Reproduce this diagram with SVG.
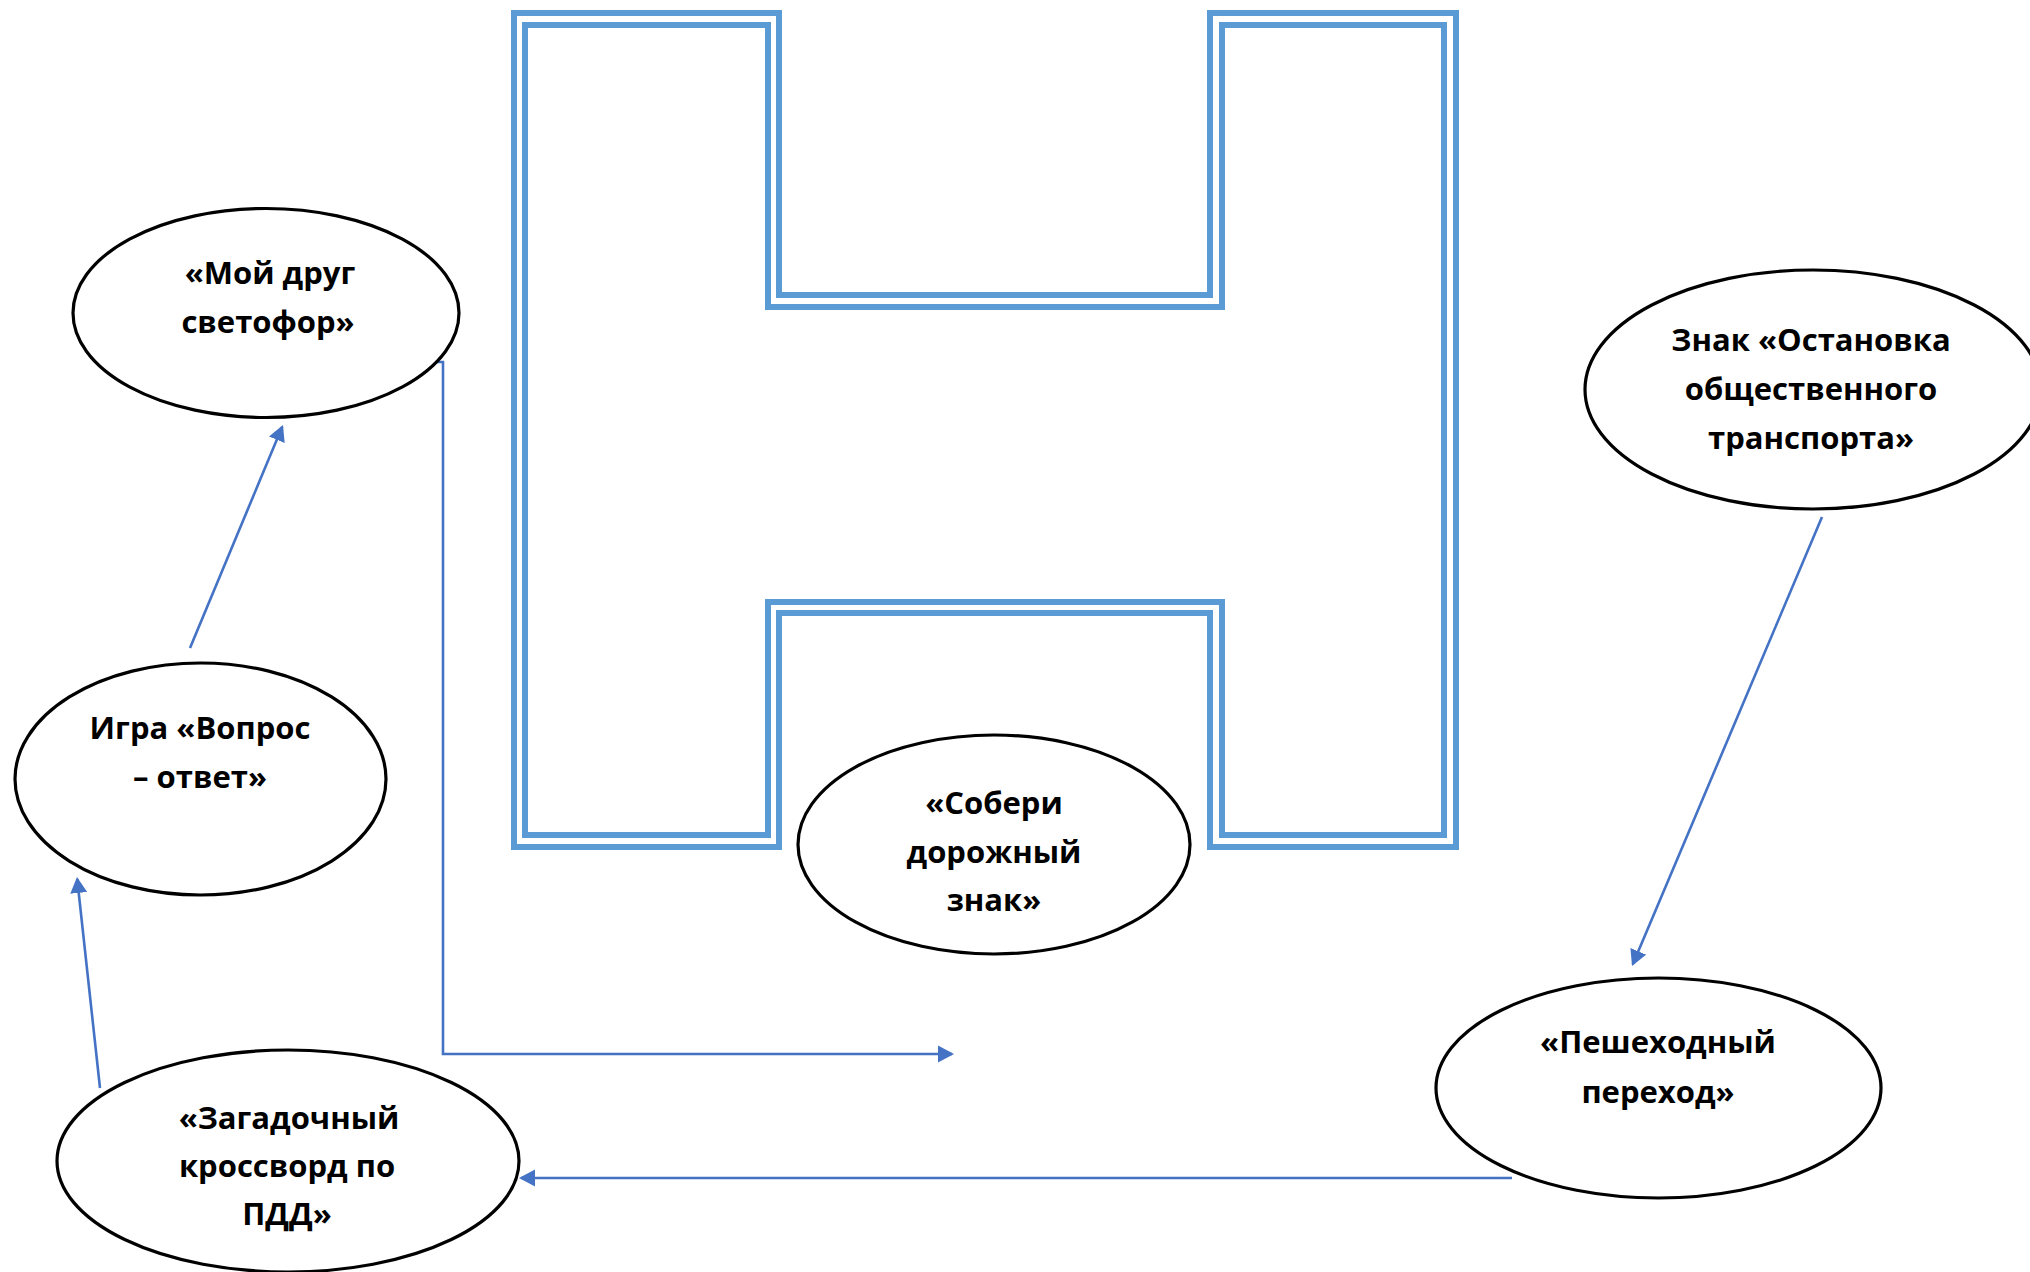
<svg xmlns="http://www.w3.org/2000/svg" width="2030" height="1272" viewBox="0 0 2030 1272">
<defs>
<style>
.h{fill:none;stroke:#5B9BD5;stroke-width:6;stroke-linejoin:miter}
.n ellipse{fill:#fff;stroke:#000;stroke-width:3.2}
.n text{font-family:"Open Sans","Noto Sans","Liberation Sans",sans-serif;font-weight:700;font-size:31px;fill:#000;text-anchor:middle}
.c path{fill:none;stroke:#4472C4;stroke-width:2.6;marker-end:url(#ah)}
</style>
<marker id="ah" markerUnits="userSpaceOnUse" markerWidth="18" markerHeight="18" refX="14" refY="9" orient="auto" viewBox="0 0 18 18">
<path d="M0,0.5 L16,9 L0,17.5 Z" fill="#4472C4"/>
</marker>
</defs>
<rect width="2030" height="1272" fill="#fff"/>
<g id="h-shape">
<path class="h" d="M514,13 H779 V295 H1210 V13 H1456 V847 H1210 V613 H779 V847 H514 Z"/>
<path class="h" d="M525,25 H768 V307 H1222 V25 H1444 V835 H1222 V602 H768 V835 H525 Z"/>
</g>
<g id="connectors" class="c">
<path d="M190,648 L282.2,426.8"/>
<path d="M100,1088 L77.2,879"/>
<path d="M437,362 H443 V1054 H952"/>
<path d="M1822,517 L1632.8,964.2"/>
<path d="M1512,1178 H521"/>
</g>
<g id="node-svetofor" class="n">
<ellipse cx="266" cy="313" rx="193" ry="104.5"/>
<text x="270" y="284">«Мой друг</text>
<text x="268" y="333">светофор»</text>
</g>
<g id="node-vopros" class="n">
<ellipse cx="200.5" cy="779" rx="185.5" ry="116"/>
<text x="200" y="739">Игра «Вопрос</text>
<text x="200" y="788">– ответ»</text>
</g>
<g id="node-krossvord" class="n">
<ellipse cx="288" cy="1161" rx="231" ry="111"/>
<text x="289" y="1129">«Загадочный</text>
<text x="287" y="1177">кроссворд по</text>
<text x="287" y="1225">ПДД»</text>
</g>
<g id="node-znak" class="n">
<ellipse cx="994" cy="844.5" rx="196" ry="109.5"/>
<text x="994" y="814">«Собери</text>
<text x="994" y="863">дорожный</text>
<text x="994" y="911">знак»</text>
</g>
<g id="node-ostanovka" class="n">
<ellipse cx="1813" cy="389.5" rx="228" ry="119.5"/>
<text x="1811" y="351">Знак «Остановка</text>
<text x="1811" y="400">общественного</text>
<text x="1811" y="449">транспорта»</text>
</g>
<g id="node-perehod" class="n">
<ellipse cx="1658.5" cy="1088" rx="222.5" ry="110"/>
<text x="1658" y="1053">«Пешеходный</text>
<text x="1658" y="1103">переход»</text>
</g>
</svg>
